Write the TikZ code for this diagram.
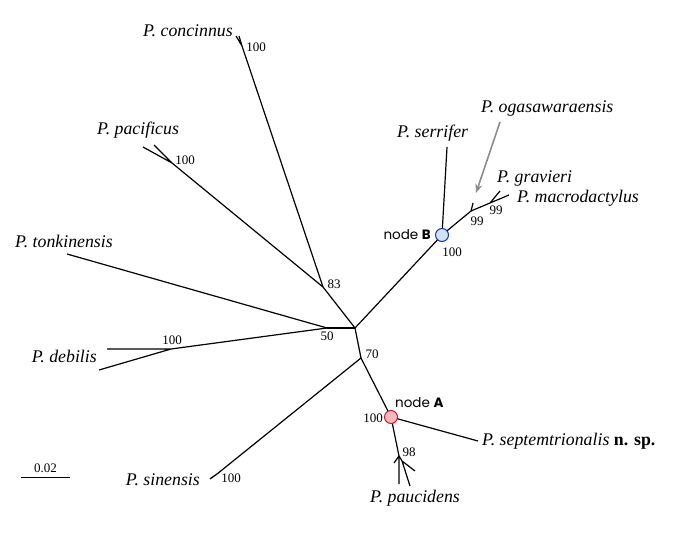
\documentclass[tikz,border=0pt]{standalone}
\usepackage{fontspec}
\setmainfont{Liberation Serif}
\newfontfamily\gothicfont{Poppins}
\usetikzlibrary{arrows.meta, calc}
\definecolor{NodeRed}{HTML}{C8202F}
\definecolor{NodePink}{HTML}{F6B9BE}
\definecolor{NodeBlue}{HTML}{1B2FB0}
\definecolor{NodeSky}{HTML}{CFE3F8}
\definecolor{PointerGray}{HTML}{8C8C8C}

\begin{document}
\begin{tikzpicture}[x=1pt, y=-1pt,
    branch/.style={line width=1.2pt},
    taxon/.style={font=\fontsize{17.8}{20}\selectfont\itshape, inner sep=0pt},
    boot/.style={font=\fontsize{13}{15}\selectfont, inner sep=0pt},
    keynode/.style={circle, line width=1pt, minimum size=13pt, inner sep=0pt},
    nodetag/.style={font=\gothicfont\fontsize{13.5}{15}\selectfont, inner sep=0pt}]
  \useasboundingbox (0,0) rectangle (676,540);

  % internal nodes
  \coordinate (ctr) at (355,328);
  \coordinate (n50) at (327,328);
  \coordinate (n83) at (323,287);
  \coordinate (n70) at (361,358);
  \coordinate (conJ) at (242,46);
  \coordinate (pacJ) at (172,163);
  \coordinate (debJ) at (171,349);
  \coordinate (sinJ) at (217,474);
  \coordinate (pauJ) at (399,456);
  \coordinate (pauK) at (402,461);
  \coordinate (ogaJ) at (471,211);
  \coordinate (graJ) at (490,203);

  % tips
  \coordinate (con1) at (236,36);
  \coordinate (con2) at (239,36);
  \coordinate (pac1) at (143,147);
  \coordinate (pac2) at (154,145);
  \coordinate (ton) at (67,254);
  \coordinate (deb1) at (107,349);
  \coordinate (deb2) at (99,370);
  \coordinate (sin1) at (210,479);
  \coordinate (sin2) at (211,478);
  \coordinate (sep) at (478,441);
  \coordinate (pau1) at (394,463);
  \coordinate (pau2) at (399,484);
  \coordinate (pau3) at (415,471);
  \coordinate (pau4) at (410,486);
  \coordinate (ser) at (447,147);
  \coordinate (oga) at (473,203);
  \coordinate (gra) at (500,191);
  \coordinate (mac) at (509,195);

  % highlighted nodes
  \node[keynode] (nodeA) at (391,417) {};
  \node[keynode] (nodeB) at (442,235) {};

  % branches
  \draw[branch] (ctr) -- (n50);
  \draw[branch] (ctr) -- (n83);
  \draw[branch] (ctr) -- (n70);
  \draw[branch] (ctr) -- (nodeB.center);
  \draw[branch] (n83) -- (conJ) (conJ) -- (con1) (conJ) -- (con2);
  \draw[branch] (n83) -- (pacJ) (pacJ) -- (pac1) (pacJ) -- (pac2);
  \draw[branch] (n50) -- (ton);
  \draw[branch] (n50) -- (debJ) (debJ) -- (deb1) (debJ) -- (deb2);
  \draw[branch] (n70) -- (sinJ) (sinJ) -- (sin1) (sinJ) -- (sin2);
  \draw[branch] (n70) -- (nodeA.center);
  \draw[branch] (nodeA.center) -- (sep);
  \draw[branch] (nodeA.center) -- (pauJ) (pauJ) -- (pau1) (pauJ) -- (pau2);
  \draw[branch] (pauJ) -- (pauK) (pauK) -- (pau3) (pauK) -- (pau4);
  \draw[branch] (nodeB.center) -- (ser);
  \draw[branch] (nodeB.center) -- (ogaJ) (ogaJ) -- (oga);
  \draw[branch] (ogaJ) -- (graJ) (graJ) -- (gra) (graJ) -- (mac);

  \node[keynode, draw=NodeRed, fill=NodePink] at (nodeA) {};
  \node[keynode, draw=NodeBlue, fill=NodeSky] at (nodeB) {};

  % taxa
  \node[taxon, anchor=base east] (tConcinnus) at (233,37) {P. concinnus};
  \node[taxon, anchor=base west] (tPacificus) at (97,135) {P. pacificus};
  \node[taxon, anchor=base west] (tTonkin) at (15,247) {P. tonkinensis};
  \node[taxon, anchor=base east] (tDebilis) at (97,362) {P. debilis};
  \node[taxon, anchor=base east] (tSinensis) at (200,485) {P. sinensis};
  \node[taxon, anchor=base west] (tPaucidens) at (370,502) {P. paucidens};
  \node[taxon, anchor=base west] (tSeptem) at (482,445) {P. septemtrionalis {\upshape\bfseries n. sp.}};
  \node[taxon, anchor=base west] (tSerrifer) at (397,138) {P. serrifer};
  \node[taxon, anchor=base west] (tOgasa) at (481,113) {P. ogasawaraensis};
  \node[taxon, anchor=base west] (tGravieri) at (497,182) {P. gravieri};
  \node[taxon, anchor=base west] (tMacro) at (517,202) {P. macrodactylus};

  % bootstrap values
  \node[boot] (bCon) at (256,47) {100};
  \node[boot] (bPac) at (185,160) {100};
  \node[boot] (b83) at (334,284) {83};
  \node[boot] (b50) at (327,336) {50};
  \node[boot] (b70) at (372,354) {70};
  \node[boot] (bDeb) at (172,340) {100};
  \node[boot] (bSin) at (231,478) {100};
  \node[boot] (bA) at (373,418) {100};
  \node[boot] (b98) at (409,452) {98};
  \node[boot] (bB) at (452,252) {100};
  \node[boot] (b99a) at (477,221) {99};
  \node[boot] (b99b) at (496,210) {99};

  % node tags
  \node[nodetag, anchor=west] (tagA) at (395,403) {node \textbf{A}};
  \node[nodetag, anchor=east] (tagB) at (431,235) {node \textbf{B}};

  % pointer to P. ogasawaraensis
  \coordinate (ptrTail) at (500,122);
  \coordinate (ptrHead) at (476,193);
  \draw[PointerGray, line width=1.6pt, -{Stealth[length=9pt, width=7pt]}]
    (ptrTail) -- (ptrHead);

  % scale bar
  \coordinate (sbL) at (21,477);
  \coordinate (sbR) at (70,477);
  \draw[line width=1pt] (sbL) -- (sbR);
  \node[boot, anchor=south] (sbText) at ($(sbL)!0.5!(sbR)+(0,-4)$) {0.02};
\end{tikzpicture}
\end{document}
